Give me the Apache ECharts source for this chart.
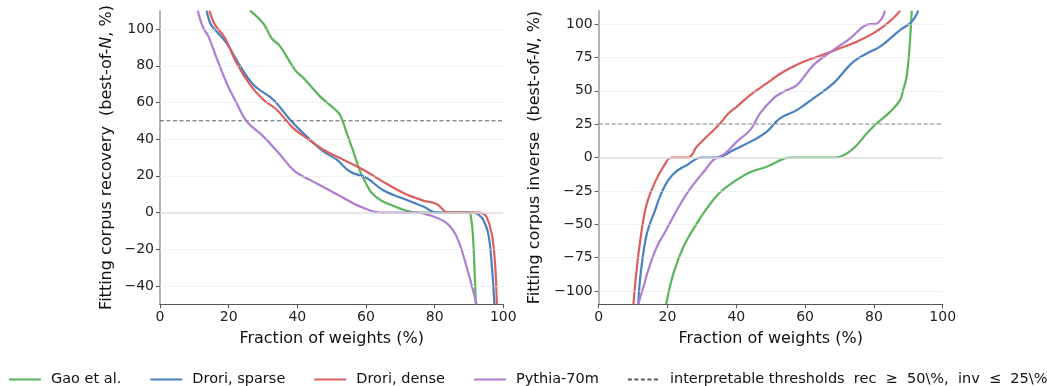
<!DOCTYPE html>
<html>
<head>
<meta charset="utf-8">
<script src="https://cdn.jsdelivr.net/npm/echarts@6/dist/echarts.min.js"></script>
<style>html,body{margin:0;padding:0;background:#fff}#c{width:1047px;height:386px}</style>
</head>
<body>
<div id="c"></div>
<script>
// ---- data (x = fraction of weights %, y = best-of-N %) ----
const seriesNames = ['Gao et al.', 'Drori, sparse', 'Drori, dense', 'Pythia-70m'];
const thresholdName = 'interpretable thresholds  rec  \u2265  50\\%,  inv  \u2264  25\\%';

const gaoRec = [[26.2,110],[30.1,103],[32.5,95],[35.0,90.6],[39.3,77.8],[41.8,73.3],[46.6,63.3],[50.5,57.0],[52.4,53.3],[54.4,43.3],[56.3,33.3],[58.3,22.4],[59.7,17],[61.6,10.8],[64.4,6.6],[67.5,4],[70.9,1.5],[74.7,0],[90.0,0],[90.6,-3],[91.1,-11.2],[91.6,-30],[92.0,-50]];
const droriSparseRec = [[13.6,110],[14.6,103.3],[16.0,99.7],[19.4,92.4],[22.8,81.5],[27.2,69.7],[33.0,61.5],[37.9,50.6],[42.7,41.5],[47.6,33.3],[51.5,28.8],[55.3,22.4],[60.2,18.8],[65.0,12.2],[72.8,6.2],[76.7,3.3],[80.6,0],[91.3,0],[93,-1.5],[94.2,-4],[95.6,-11.2],[96.6,-27.6],[97.4,-50]];
const droriDenseRec = [[14.4,110],[16.0,102.4],[18.9,95.1],[22.3,81.5],[26.2,69.7],[30.1,61.5],[34.0,56.0],[38.8,46.0],[42.7,40.6],[47.6,34.2],[53.4,28.8],[59.2,23.3],[64.1,17.8],[70.9,10.6],[76.7,6.5],[80.6,4.7],[84.0,0],[92.7,0],[94,-0.5],[95.1,-2.2],[96.6,-11.2],[97.6,-27.6],[98.1,-50]];
const pythiaRec = [[11.0,110],[12.6,100.6],[14.1,96.0],[16.5,84.2],[19.4,70.6],[22.3,59.7],[25.3,49.6],[30.1,41.5],[35.0,31.5],[39.3,22.4],[43.7,17.8],[49.5,12],[54.4,7],[58,3.5],[64.1,0],[74.7,0],[79.6,-2.2],[83.5,-5.8],[86.4,-13.1],[89.3,-29.5],[92.2,-50]];

const gaoInv = [[19.6,-110],[21.7,-87],[24.6,-67],[28.5,-49.5],[31.4,-38.3],[35.3,-26],[40,-17],[44.0,-11],[48.8,-7],[54,-0.7],[56,0],[68.7,0],[72.1,3],[75.0,9.2],[77.9,18],[80.8,25.5],[84.7,34.2],[87.6,43],[88.5,50.5],[89.5,60.5],[90.3,80.5],[91.0,110]];
const droriSparseInv = [[11.5,-110],[12.2,-87],[14.0,-57],[16.4,-39.5],[18,-28],[20.2,-17],[22.7,-10],[25.6,-5.8],[29.9,0],[34.3,0],[39.1,5.5],[45.0,13],[48.8,19.2],[52.7,29.3],[57.6,35.5],[62.4,44.3],[68.2,55.5],[74.0,71.7],[78.9,79.2],[81.8,83],[87.6,95.5],[91.0,101.7],[92.9,110]];
const droriDenseInv = [[10.1,-110],[11.0,-84.5],[12.5,-54.5],[14.0,-34.5],[16.4,-18.3],[18.8,-7],[21.2,0],[26.0,0],[28.5,8],[31.4,15.5],[35.3,25.5],[37.7,33],[40.1,38],[44.0,46.7],[48.8,55.5],[53.7,64.2],[59.5,71.7],[66.3,78],[70.1,81.8],[75.0,86.7],[79.8,93],[82.7,98],[85.6,104.3],[87.6,110]];
const pythiaInv = [[11.5,-110],[13.0,-97],[14.4,-84.5],[16.9,-67],[19.3,-55.8],[22.7,-39.5],[25.6,-27],[28.5,-17],[30.9,-9.5],[33.3,-2],[36.7,3],[40.1,11.7],[44.0,20.5],[46.9,33],[50.8,44.3],[53.7,49.2],[57.6,54.2],[62.4,69.2],[68.2,80.5],[73.1,89.3],[76.9,98],[78.9,100],[80.3,100],[82.3,104.3],[83.2,110]];

const recThreshold = 50;
const invThreshold = 25;
const recTicks = [-40, -20, 0, 20, 40, 60, 80, 100];
const invTicks = [-100, -75, -50, -25, 0, 25, 50, 75, 100];
const recRange = [-50, 110];
const invRange = [-110, 110];
const xRange = [0, 100];

// ---- styles ----
const colors = ['#5ab55a', '#4a7fc1', '#dc5f5f', '#b07dd2'];
const FONT = 'DejaVu Sans';

const chart = echarts.init(document.getElementById('c'), null, {renderer: 'canvas'});

function yAxis(gridIndex, range, ticks, name, gap) {
  return {
    type: 'value', gridIndex, min: range[0], max: range[1],
    name, nameLocation: 'middle', nameGap: gap, nameRotate: 90,
    nameTextStyle: {fontFamily: FONT, fontSize: 16, color: '#111',
      rich: {it: {fontFamily: FONT, fontSize: 16, fontStyle: 'italic', color: '#111'}}},
    axisLine: {show: true, lineStyle: {color: '#9a9a9a', width: 1.5}},
    axisTick: {show: true, length: 4, customValues: ticks, lineStyle: {color: '#555'}},
    axisLabel: {customValues: ticks, fontFamily: FONT, fontSize: 14, color: '#222', margin: 6,
      formatter: v => (v < 0 ? '\u2212' + Math.abs(v) : String(v))},
    splitLine: {show: false}
  };
}
function xAxis(gridIndex) {
  return {
    type: 'value', gridIndex, min: xRange[0], max: xRange[1], interval: 20,
    name: 'Fraction of weights (%)', nameLocation: 'middle', nameGap: 27,
    nameTextStyle: {fontFamily: FONT, fontSize: 16, color: '#111'},
    axisLine: {show: true, onZero: false, lineStyle: {color: '#555', width: 1.2}},
    axisTick: {show: true, length: 4, lineStyle: {color: '#555'}},
    axisLabel: {fontFamily: FONT, fontSize: 14, color: '#222', margin: 6},
    splitLine: {show: false}
  };
}
function gridLines(idx, ticks) {
  return {
    type: 'line', xAxisIndex: idx, yAxisIndex: idx, data: [], silent: true, z: 1,
    markLine: {
      silent: true, symbol: 'none', label: {show: false}, animation: false,
      data: ticks.map(t => ({yAxis: t, lineStyle: t === 0
        ? {type: 'solid', color: '#dddddd', width: 1.5}
        : {type: 'dotted', color: '#e3e3e3', width: 1}}))
    }
  };
}
function curve(name, data, idx, color) {
  return {type: 'line', name, data, xAxisIndex: idx, yAxisIndex: idx, showSymbol: false, symbol: 'none',
    smooth: 0.4, lineStyle: {color, width: 2.2}, itemStyle: {color}, z: 3, clip: true};
}
function threshold(value, idx) {
  return {type: 'line', name: thresholdName, data: [[xRange[0], value], [xRange[1], value]],
    xAxisIndex: idx, yAxisIndex: idx, showSymbol: false, symbol: 'none',
    lineStyle: {color: '#5a5a5a', width: 1, type: [4, 2.5]}, itemStyle: {color: '#5a5a5a'}, z: 2};
}

const recData = [gaoRec, droriSparseRec, droriDenseRec, pythiaRec];
const invData = [gaoInv, droriSparseInv, droriDenseInv, pythiaInv];

const series = [gridLines(0, recTicks), gridLines(1, invTicks)];
seriesNames.forEach((n, i) => series.push(curve(n, recData[i], 0, colors[i])));
seriesNames.forEach((n, i) => series.push(curve(n, invData[i], 1, colors[i])));
series.push(threshold(recThreshold, 0));
series.push(threshold(invThreshold, 1));

chart.setOption({
  animation: false,
  backgroundColor: '#fff',
  textStyle: {fontFamily: FONT},
  grid: [
    {left: 160, right: 543.7, top: 10.7, bottom: 81.7, containLabel: false},
    {left: 598.7, right: 104.3, top: 10.7, bottom: 81.7, containLabel: false}
  ],
  xAxis: [xAxis(0), xAxis(1)],
  yAxis: [
    yAxis(0, recRange, recTicks, 'Fitting corpus recovery  (best-of-{it|N}, %)', 45),
    yAxis(1, invRange, invTicks, 'Fitting corpus inverse  (best-of-{it|N}, %)', 56)
  ],
  legend: {
    data: seriesNames.concat([thresholdName]),
    left: 3, top: 367, width: 1300, itemWidth: 32, itemHeight: 14, itemGap: 28,
    padding: [5, 0, 5, 5],
    itemStyle: {opacity: 0},
    textStyle: {fontFamily: FONT, fontSize: 14.5, color: '#111', padding: [0, 0, 0, 5]}
  },
  series
});
</script>
</body>
</html>
